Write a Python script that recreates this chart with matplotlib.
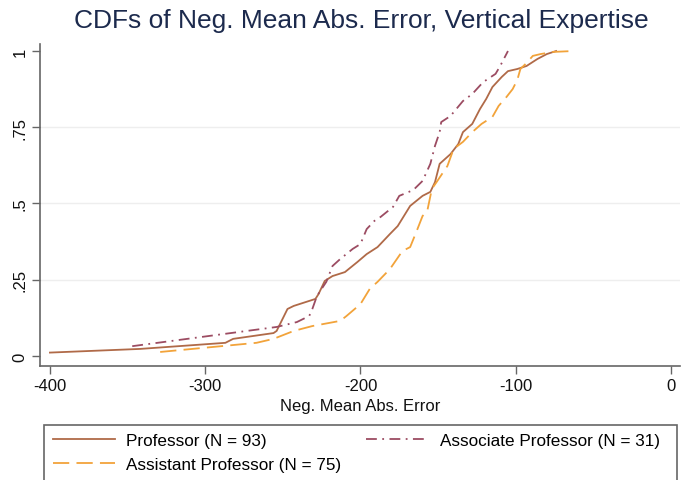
import numpy as np
import matplotlib
matplotlib.use("Agg")
import matplotlib.pyplot as plt
from matplotlib.patches import Rectangle

plt.rcParams['font.family'] = ['Liberation Sans', 'DejaVu Sans']

# empirical CDF vertices (neg. mean abs. error, cumulative share)
prof_x = [-400, -342, -287, -282, -256, -254, -247, -243, -229, -227, -223, -218,
          -210, -202, -196, -189, -181, -176, -168, -160, -155, -152, -149, -142,
          -137, -134, -128, -123, -119, -115, -109, -105, -99, -93, -86, -80, -74]
prof_y = [0.011, 0.023, 0.043, 0.056, 0.075, 0.082, 0.154, 0.164, 0.187, 0.203, 0.246, 0.262,
          0.275, 0.308, 0.334, 0.357, 0.400, 0.426, 0.492, 0.525, 0.538, 0.570, 0.630, 0.662,
          0.695, 0.734, 0.761, 0.810, 0.843, 0.882, 0.915, 0.934, 0.941, 0.951, 0.974, 0.990, 1.0]

assoc_x = [-347, -254, -241, -233, -231, -228, -222, -218, -213, -205, -200, -196,
           -191, -187, -179, -175, -166, -160, -155, -152, -149, -148, -142, -134,
           -128, -121, -113, -110, -105]
assoc_y = [0.032, 0.095, 0.111, 0.131, 0.154, 0.197, 0.243, 0.295, 0.318, 0.351, 0.367, 0.416,
           0.443, 0.456, 0.489, 0.525, 0.544, 0.574, 0.630, 0.689, 0.734, 0.767, 0.787, 0.836,
           0.859, 0.898, 0.925, 0.951, 1.0]

asst_x = [-329, -267, -256, -243, -231, -213, -209, -200, -194, -189, -181, -173,
          -168, -164, -160, -157, -154, -151, -144, -140, -134, -128, -122, -115,
          -111, -106, -102, -99, -97, -93, -89, -84, -76, -63]
asst_y = [0.013, 0.043, 0.056, 0.082, 0.098, 0.115, 0.131, 0.170, 0.220, 0.243, 0.285, 0.344,
          0.357, 0.407, 0.459, 0.475, 0.548, 0.570, 0.623, 0.679, 0.702, 0.734, 0.761, 0.784,
          0.820, 0.849, 0.875, 0.905, 0.941, 0.961, 0.984, 0.990, 0.997, 1.0]

xticks = [-400, -300, -200, -100, 0]
yticks = [0, 0.25, 0.5, 0.75, 1]
ylabels = ["0", ".25", ".5", ".75", "1"]

W, H = 681, 481
fig = plt.figure(figsize=(W/100, H/100), dpi=100)
ax = fig.add_axes([40/W, 1-367/H, 640/W, (367-45)/H])

ax.plot(prof_x, prof_y, color='#b06a48', lw=1.3, label='Professor (N = 93)')
ax.plot(asst_x, asst_y, color='#f2a33a', lw=1.3, linestyle=(0, (9, 4)),
        label='Assistant Professor (N = 75)')
ax.plot(assoc_x, assoc_y, color='#9c4c62', lw=1.3, linestyle=(0, (6, 3, 1, 3)),
        label='Associate Professor (N = 31)')

ax.set_xlim(-406.4, 5.8)
ax.set_ylim(-0.033, 1.023)
ax.set_xticks(xticks)
ax.set_xticklabels([str(t) for t in xticks])
ax.set_yticks(yticks)
ax.set_yticklabels(ylabels, rotation=90, va='center')
for v in [0.25, 0.5, 0.75]:
    ax.axhline(v, color='#eeeeee', lw=1, zorder=0)

for s in ['top', 'right']:
    ax.spines[s].set_visible(False)
for s in ['left', 'bottom']:
    ax.spines[s].set_color('#666666')
    ax.spines[s].set_linewidth(1.2)
ax.tick_params(direction='out', length=6, width=1, color='#666666',
               labelsize=12, labelcolor='#111111', pad=3)

ax.set_xlabel('Neg. Mean Abs. Error', fontsize=12, color='#111111', labelpad=3)
fig.text(361/W, 1-21/H, 'CDFs of Neg. Mean Abs. Error, Vertical Expertise',
         ha='center', va='center', fontsize=19, color='#1c2a4d')

# legend box runs off the bottom edge of the figure
fig.patches.append(Rectangle((44/W, -0.1), (677-44)/W, (1-426/H)+0.1,
                             transform=fig.transFigure, fill=False,
                             edgecolor='#666666', lw=1.2))
h, l = ax.get_legend_handles_labels()
fig.legend(h, l, loc='upper left', ncol=2, mode='expand',
           bbox_to_anchor=(52.5/W, 0, (660-52.5)/W, 1-434/H),
           fontsize=12.3, handlelength=3.65, handletextpad=0.68,
           frameon=False, borderaxespad=0, borderpad=0,
           labelspacing=0.52)

fig.savefig('out.png', dpi=100)
